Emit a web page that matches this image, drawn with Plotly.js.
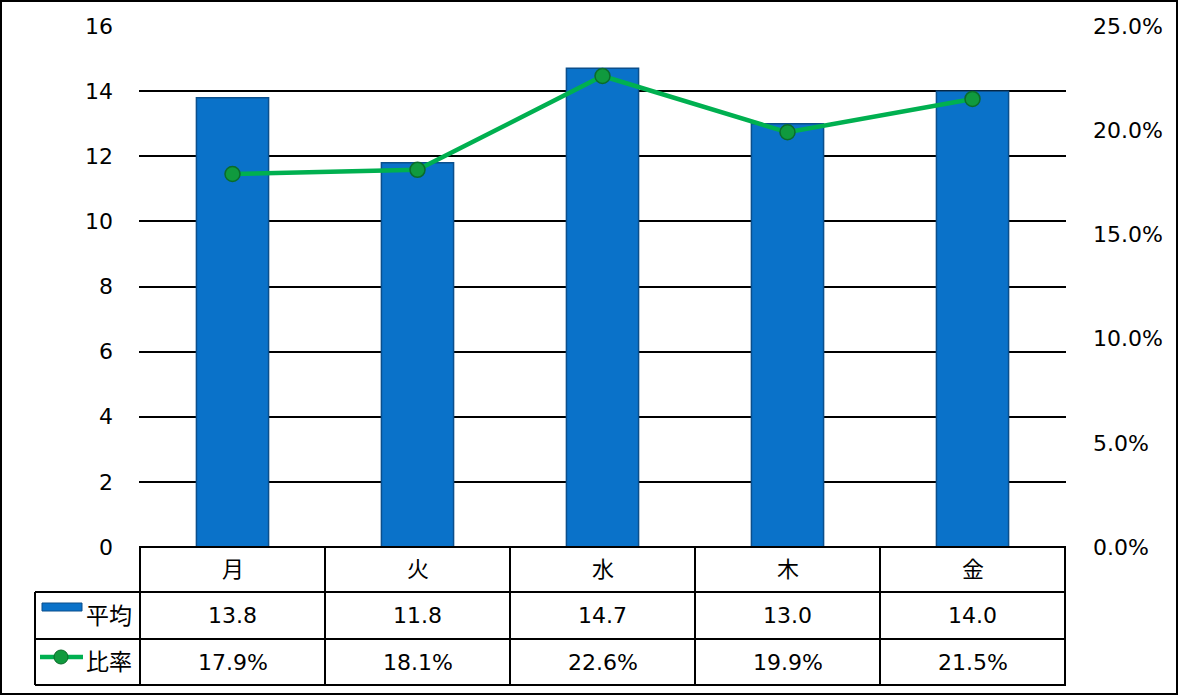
<!DOCTYPE html>
<html><head><meta charset="utf-8">
<script src="https://cdn.plot.ly/plotly-3.0.1.min.js"></script>
<style>body{margin:0;background:#fff}#c{width:1178px;height:695px}</style>
</head><body><div id="c"></div>
<script>
const categories = ['月','火','水','木','金'];
const avgValues = [13.8, 11.8, 14.7, 13.0, 14.0];
const ratioValues = [0.179, 0.181, 0.226, 0.199, 0.215];
const avgName = '平均';
const ratioName = '比率';

const W = 1178, H = 695, L = 139, R = 1066, T = 26, B = 547;
const pw = R - L, ph = B - T;
const px = x => (x - L) / pw;
const py = y => (B - y) / ph;
const FONT = 'Verdana, "DejaVu Sans", "Noto Sans CJK JP", sans-serif';
const blk = {color:'#000', width:2};

const traces = [
  {type:'bar', x:categories, y:avgValues, name:avgName,
   marker:{color:'#0a72c9', line:{color:'#0b4f8c', width:1.5}}, hoverinfo:'skip'},
  {type:'scatter', mode:'lines+markers', x:categories, y:ratioValues, yaxis:'y2', name:ratioName,
   line:{color:'#00b050', width:4.5},
   marker:{size:15, color:'#109a3e', line:{color:'#0b6b2a', width:1.5}}, hoverinfo:'skip'}
];

const shapes = [];
const annotations = [];
shapes.push({type:'rect', xref:'paper', yref:'paper', x0:px(1), x1:px(W-1), y0:py(H-1), y1:py(1), line:blk});
shapes.push({type:'line', xref:'paper', yref:'paper', x0:px(L), x1:px(R), y0:py(B), y1:py(B), line:blk});
[592, 639, 685].forEach(yy => shapes.push({type:'line', xref:'paper', yref:'paper', x0:px(35), x1:px(R), y0:py(yy), y1:py(yy), line:blk}));
for (let i = 0; i <= categories.length; i++) {
  shapes.push({type:'line', xref:'x', yref:'paper', x0:i-0.5, x1:i-0.5, y0:py(B), y1:py(685), line:blk});
}
shapes.push({type:'line', xref:'paper', yref:'paper', x0:px(35), x1:px(35), y0:py(592), y1:py(685), line:blk});
shapes.push({type:'rect', xref:'paper', yref:'paper', x0:px(42), x1:px(82), y0:py(611), y1:py(603), fillcolor:'#0a72c9', line:{color:'#0b4f8c', width:1}});
shapes.push({type:'line', xref:'paper', yref:'paper', x0:px(40), x1:px(83), y0:py(657), y1:py(657), line:{color:'#00b050', width:4.5}});
shapes.push({type:'circle', xref:'paper', yref:'paper', x0:px(54), x1:px(68), y0:py(664), y1:py(650), fillcolor:'#109a3e', line:{color:'#0b6b2a', width:1}});

const tf = {family:FONT, size:22, color:'#000'};
categories.forEach((c, i) => {
  annotations.push({xref:'x', yref:'paper', x:i, y:py(569.5), text:c, showarrow:false, font:tf, xanchor:'center', yanchor:'middle'});
  annotations.push({xref:'x', yref:'paper', x:i, y:py(615.5), text:avgValues[i].toFixed(1), showarrow:false, font:tf, xanchor:'center', yanchor:'middle'});
  annotations.push({xref:'x', yref:'paper', x:i, y:py(662), text:(ratioValues[i]*100).toFixed(1)+'%', showarrow:false, font:tf, xanchor:'center', yanchor:'middle'});
});
annotations.push({xref:'paper', yref:'paper', x:px(84), y:py(615.5), text:avgName, showarrow:false, font:{family:FONT, size:23, color:'#000'}, xanchor:'left', yanchor:'middle'});
annotations.push({xref:'paper', yref:'paper', x:px(84), y:py(662), text:ratioName, showarrow:false, font:{family:FONT, size:23, color:'#000'}, xanchor:'left', yanchor:'middle'});

const layout = {
  width:W, height:H,
  margin:{l:L, r:W-R, t:T, b:H-B, pad:0},
  paper_bgcolor:'#fff', plot_bgcolor:'#fff',
  showlegend:false,
  bargap:0.61,
  font:{family:FONT, size:22, color:'#000'},
  xaxis:{showticklabels:false, showgrid:false, zeroline:false, showline:false, ticks:'', fixedrange:true},
  yaxis:{range:[0,16], dtick:2, tick0:0, showgrid:true, gridcolor:'#000', gridwidth:2,
         zeroline:false, showline:false, ticks:'', ticklabelstandoff:25,
         tickfont:{family:FONT, size:22, color:'#000'}},
  yaxis2:{range:[0,0.25], dtick:0.05, tick0:0, overlaying:'y', side:'right', tickformat:'.1%',
          showgrid:false, zeroline:false, showline:false, ticks:'', ticklabelstandoff:26,
          tickfont:{family:FONT, size:22, color:'#000'}},
  shapes:shapes, annotations:annotations
};
Plotly.newPlot('c', traces, layout, {staticPlot:true, displayModeBar:false});
</script></body></html>
